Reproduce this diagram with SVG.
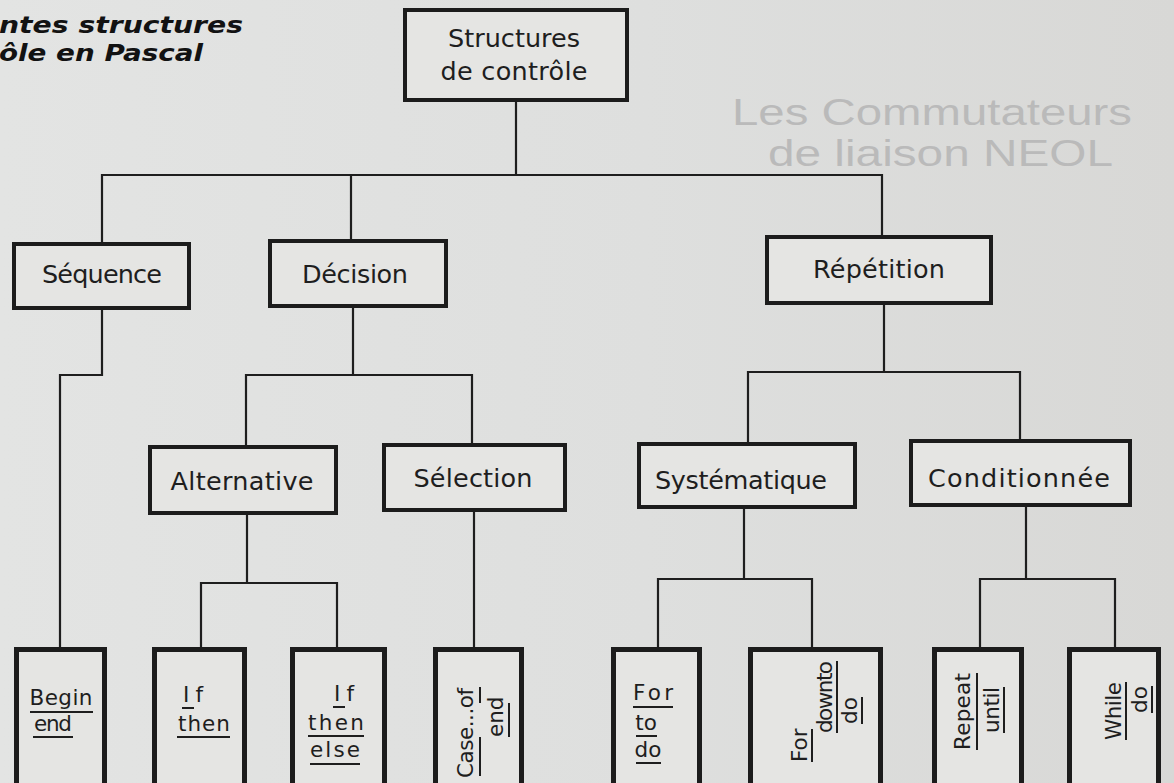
<svg xmlns="http://www.w3.org/2000/svg" width="1174" height="783" viewBox="0 0 1174 783">
  <defs>
    <linearGradient id="paper" x1="0" y1="0" x2="1" y2="0">
      <stop offset="0" stop-color="#e3e4e3"/>
      <stop offset="0.55" stop-color="#dedfde"/>
      <stop offset="1" stop-color="#d8d8d6"/>
    </linearGradient>
    <style>
      .box{fill:#e5e5e3;stroke:#1c1c1c;stroke-width:4;stroke-linejoin:miter}
      .leaf{fill:#e5e5e3;stroke:#1c1c1c;stroke-width:5;stroke-linejoin:miter}
      .lbl{font-family:"DejaVu Sans","Liberation Sans",sans-serif;font-size:25.5px;fill:#1e1e1e;text-anchor:middle}
      .kw{font-family:"DejaVu Sans","Liberation Sans",sans-serif;font-size:21.5px;fill:#1e1e1e}
      .mid{text-anchor:middle}
      .ul{stroke:#1e1e1e;stroke-width:2;fill:none}
      .wire{fill:none;stroke:#1e1e1e;stroke-width:2.2;stroke-linejoin:miter}
      .cap{font-family:"DejaVu Sans","Liberation Sans",sans-serif;font-weight:bold;font-style:oblique;font-size:23.5px;fill:#121212}
      .ghost{font-family:"Liberation Sans",sans-serif;font-size:36px;fill:#bababa}
    </style>
  </defs>

  <!-- paper -->
  <rect x="0" y="0" width="1174" height="783" fill="url(#paper)"/>

  <!-- faint headings printed through from the facing page -->
  <g id="show-through">
    <text class="ghost" x="732" y="125" textLength="400" lengthAdjust="spacingAndGlyphs">Les Commutateurs</text>
    <text class="ghost" x="768" y="166" textLength="345" lengthAdjust="spacingAndGlyphs">de liaison NEOL</text>
  </g>

  <!-- caption (cut at the left margin) -->
  <g id="caption">
    <text class="cap" x="-1" y="33" textLength="244" lengthAdjust="spacingAndGlyphs">ntes structures</text>
    <text class="cap" x="-1" y="61" textLength="204" lengthAdjust="spacingAndGlyphs">ôle en Pascal</text>
  </g>

  <!-- tree connectors -->
  <g id="connectors" class="wire">
    <path d="M516,102 V175 H102 V242"/>
    <path d="M516,175 H351 V239"/>
    <path d="M516,175 H882 V235"/>
    <path d="M102,310 V375 H60 V647"/>
    <path d="M353,308 V375 H246 V445"/>
    <path d="M353,375 H472 V443"/>
    <path d="M247,515 V583 H201 V647"/>
    <path d="M247,583 H337 V647"/>
    <path d="M474,512 V647"/>
    <path d="M884,305 V372 H748 V442"/>
    <path d="M884,372 H1020 V439"/>
    <path d="M744,509 V579 H658 V647"/>
    <path d="M744,579 H812 V647"/>
    <path d="M1026,507 V579 H980 V647"/>
    <path d="M1026,579 H1115 V647"/>
  </g>

  <!-- root -->
  <g id="structures-de-controle">
    <rect class="box" x="405" y="10" width="222" height="90"/>
    <text class="lbl" x="514" y="47" textLength="132">Structures</text>
    <text class="lbl" x="514" y="80" textLength="147">de contrôle</text>
  </g>

  <!-- first level -->
  <g id="sequence">
    <rect class="box" x="14" y="244" width="175" height="64"/>
    <text class="lbl" x="102" y="283" textLength="120">Séquence</text>
  </g>
  <g id="decision">
    <rect class="box" x="270" y="241" width="176" height="65"/>
    <text class="lbl" x="355" y="283" textLength="106">Décision</text>
  </g>
  <g id="repetition">
    <rect class="box" x="767" y="237" width="224" height="66"/>
    <text class="lbl" x="879" y="278" textLength="132">Répétition</text>
  </g>

  <!-- second level -->
  <g id="alternative">
    <rect class="box" x="150" y="447" width="186" height="66"/>
    <text class="lbl" x="242" y="490" textLength="143">Alternative</text>
  </g>
  <g id="selection">
    <rect class="box" x="384" y="445" width="181" height="65"/>
    <text class="lbl" x="473" y="487" textLength="119">Sélection</text>
  </g>
  <g id="systematique">
    <rect class="box" x="639" y="444" width="216" height="63"/>
    <text class="lbl" x="741" y="489" textLength="172">Systématique</text>
  </g>
  <g id="conditionnee">
    <rect class="box" x="911" y="441" width="219" height="64"/>
    <text class="lbl" x="1019" y="487" textLength="182">Conditionnée</text>
  </g>

  <!-- Pascal statements -->
  <g id="begin-end">
    <rect class="leaf" x="16.5" y="649.5" width="88" height="150"/>
    <text class="kw mid" x="61" y="705" textLength="63">Begin</text>
    <text class="kw mid" x="53" y="731" textLength="38">end</text>
    <path class="ul" d="M30,712 H93 M33,737 H73"/>
  </g>
  <g id="if-then">
    <rect class="leaf" x="154.5" y="649.5" width="90" height="150"/>
    <text class="kw" x="183" y="702" textLength="20">If</text>
    <text class="kw mid" x="204" y="731" textLength="52">then</text>
    <path class="ul" d="M182,708 H194 M177,737 H230"/>
  </g>
  <g id="if-then-else">
    <rect class="leaf" x="292.5" y="649.5" width="92" height="150"/>
    <text class="kw" x="334" y="701" textLength="20">If</text>
    <text class="kw mid" x="336" y="730" textLength="56">then</text>
    <text class="kw mid" x="335" y="757" textLength="50">else</text>
    <path class="ul" d="M333,707 H345 M308,736 H364 M310,764 H360"/>
  </g>
  <g id="case-of-end">
    <rect class="leaf" x="435.5" y="649.5" width="86" height="150"/>
    <text class="kw" font-size="19" transform="translate(473,778) rotate(-90)" textLength="90">Case...of</text>
    <text class="kw" font-size="19" transform="translate(503,737) rotate(-90)">end</text>
    <path class="ul" d="M480,776 V737 M480,703 V687 M509,737 V703"/>
  </g>
  <g id="for-to-do">
    <rect class="leaf" x="613.5" y="649.5" width="86" height="150"/>
    <text class="kw mid" x="653" y="700" textLength="40">For</text>
    <text class="kw mid" x="646" y="730">to</text>
    <text class="kw mid" x="648" y="757">do</text>
    <path class="ul" d="M633,707 H673 M636,736 H657 M636,763 H661"/>
  </g>
  <g id="for-downto-do">
    <rect class="leaf" x="750.5" y="649.5" width="130" height="150"/>
    <text class="kw" transform="translate(807,762) rotate(-90)">For</text>
    <text class="kw" transform="translate(832,733) rotate(-90)" textLength="72">downto</text>
    <text class="kw" transform="translate(857,724) rotate(-90)">do</text>
    <path class="ul" d="M812,762 V729 M837,733 V661 M862,724 V697"/>
  </g>
  <g id="repeat-until">
    <rect class="leaf" x="934.5" y="649.5" width="87" height="150"/>
    <text class="kw" transform="translate(970,750) rotate(-90)" textLength="77">Repeat</text>
    <text class="kw" transform="translate(999,733) rotate(-90)" textLength="46">until</text>
    <path class="ul" d="M977,750 V673 M1004,733 V687"/>
  </g>
  <g id="while-do">
    <rect class="leaf" x="1069.5" y="649.5" width="89" height="150"/>
    <text class="kw" transform="translate(1121,740) rotate(-90)" textLength="58">While</text>
    <text class="kw" transform="translate(1147,713) rotate(-90)">do</text>
    <path class="ul" d="M1126,740 V682 M1152,713 V686"/>
  </g>
</svg>
